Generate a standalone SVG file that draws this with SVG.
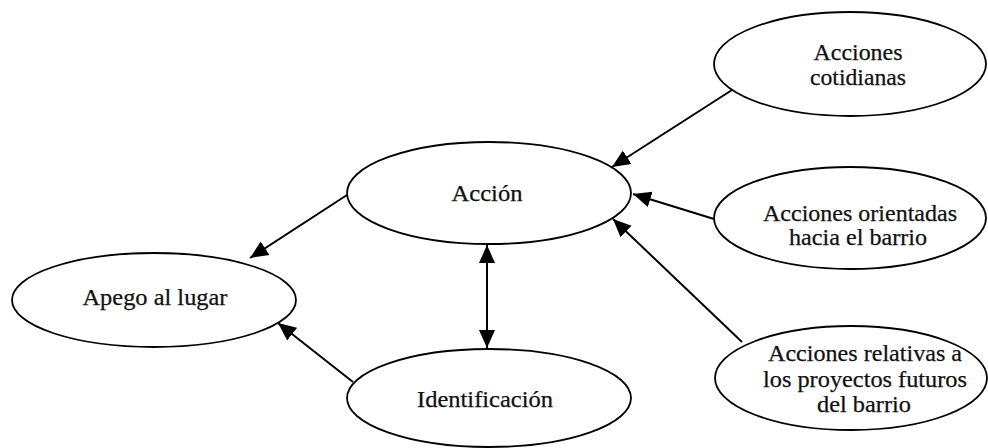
<svg xmlns="http://www.w3.org/2000/svg" width="988" height="448" viewBox="0 0 988 448">
<style>
.n ellipse{fill:#fff;stroke:#000;stroke-width:1.8}
text{font-family:"Liberation Serif","Times New Roman",serif;font-size:23px;fill:#111;stroke:#111;stroke-width:0.25;text-anchor:middle}
.c line{stroke:#000;stroke-width:2;marker-end:url(#ah)}
</style>
<defs>
<marker id="ah" markerUnits="userSpaceOnUse" markerWidth="20" markerHeight="18" refX="18" refY="8" orient="auto-start-reverse" viewBox="0 0 20 16">
<path d="M0,0 L18,8 L0,16 z" fill="#000"/>
</marker>
</defs>
<rect width="988" height="448" fill="#fff"/>
<g class="c" id="connectors">
<line x1="347" y1="195" x2="250" y2="258"/>
<line x1="353" y1="382" x2="278" y2="323"/>
<line x1="487" y1="245" x2="487" y2="348" style="marker-start:url(#ah)"/>
<line x1="732" y1="90" x2="612" y2="167"/>
<line x1="714" y1="219" x2="633" y2="194"/>
<line x1="742" y1="342" x2="613" y2="219"/>
</g>
<g class="n" id="apego">
<ellipse cx="154" cy="300" rx="142" ry="47"/>
<text x="155" y="305" textLength="145" lengthAdjust="spacingAndGlyphs">Apego al lugar</text>
</g>
<g class="n" id="accion">
<ellipse cx="489" cy="193" rx="142" ry="51"/>
<text x="487" y="201" textLength="71" lengthAdjust="spacingAndGlyphs">Acción</text>
</g>
<g class="n" id="identificacion">
<ellipse cx="489" cy="398" rx="142" ry="49"/>
<text x="485" y="407" textLength="136" lengthAdjust="spacingAndGlyphs">Identificación</text>
</g>
<g class="n" id="cotidianas">
<ellipse cx="850" cy="64" rx="136" ry="52"/>
<text x="858" y="60" textLength="89" lengthAdjust="spacingAndGlyphs">Acciones</text>
<text x="858" y="85" textLength="96" lengthAdjust="spacingAndGlyphs">cotidianas</text>
</g>
<g class="n" id="orientadas">
<ellipse cx="850" cy="218" rx="136" ry="51"/>
<text x="860" y="221" textLength="194" lengthAdjust="spacingAndGlyphs">Acciones orientadas</text>
<text x="858" y="245" textLength="138" lengthAdjust="spacingAndGlyphs">hacia el barrio</text>
</g>
<g class="n" id="relativas">
<ellipse cx="851" cy="378" rx="136" ry="52"/>
<text x="865" y="361" textLength="194" lengthAdjust="spacingAndGlyphs">Acciones relativas a</text>
<text x="865" y="387" textLength="204" lengthAdjust="spacingAndGlyphs">los proyectos futuros</text>
<text x="864" y="412" textLength="94" lengthAdjust="spacingAndGlyphs">del barrio</text>
</g>
</svg>
